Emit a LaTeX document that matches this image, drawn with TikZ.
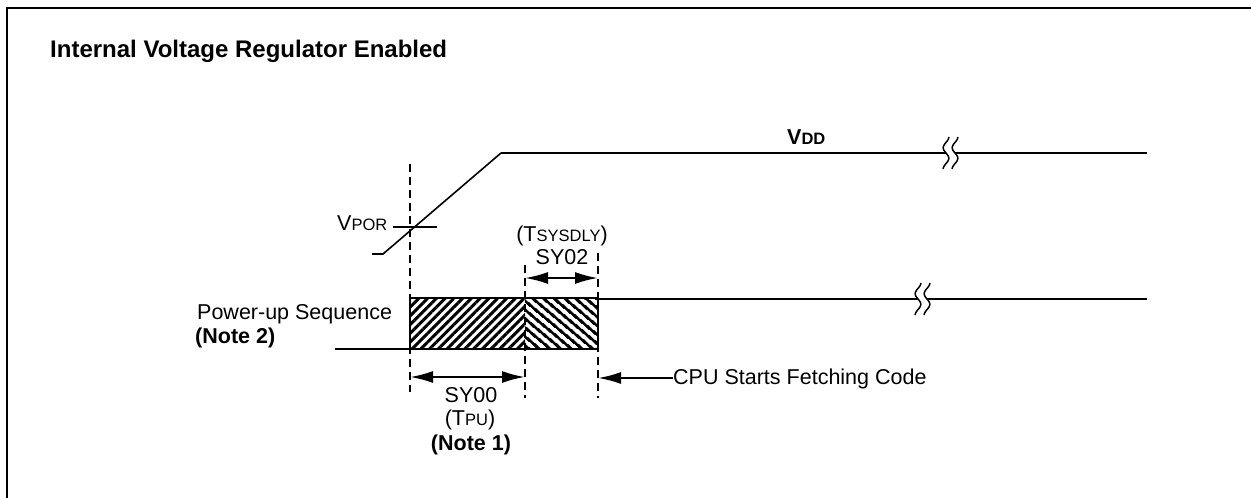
\documentclass[tikz,border=0pt]{standalone}
\usepackage{fontspec}
\setmainfont{Liberation Sans}
\usetikzlibrary{arrows.meta,patterns.meta}
\begin{document}
\begin{tikzpicture}[x=1pt,y=-1pt,
  frame/.style={line width=2.4pt},
  sig/.style={line width=2.4pt},
  ramp/.style={line width=1.6pt},
  guide/.style={line width=2.2pt, dash pattern=on 8pt off 5pt},
  dimarrow/.style={line width=2.2pt, {Latex[length=23pt,width=12pt]}-{Latex[length=23pt,width=12pt]}},
  onearrow/.style={line width=2.2pt, -{Latex[length=23pt,width=12pt]}},
  txt/.style={font=\fontsize{21.5}{24}\selectfont, inner sep=0pt},
  btxt/.style={font=\fontsize{21.5}{24}\selectfont\bfseries, inner sep=0pt},
  squig/.pic={\draw[line width=1.5pt] plot[domain=-16:16,samples=40,smooth] ({2.8*sin(\x*17)},\x);}
]
\newcommand\smc[1]{{\fontsize{16.5}{18}\selectfont #1}}
\useasboundingbox (0,0) rectangle (1251,498);
% frame
\draw[frame] (7,498) -- (7,8) -- (1251,8);
% title
\node[inner sep=0pt, font=\fontsize{24}{26}\selectfont\bfseries, anchor=base west] (title) at (50,57) {Internal Voltage Regulator Enabled};
% VDD signal
\coordinate (v0) at (372,254);
\coordinate (v1) at (383,254);
\coordinate (v2) at (501,153);
\coordinate (vb1) at (946,153);
\coordinate (vb2) at (955,153);
\coordinate (v3) at (1147,153);
\draw[ramp] (v0) -- (v1) -- (v2);
\draw[sig] (v2) -- (vb1);
\draw[sig] (vb2) -- (v3);
\pic at (vb1) {squig};
\pic at (vb2) {squig};
\node[btxt, anchor=base west] (vdd) at (787,144) {V\smc{DD}};
% VPOR
\node[txt, anchor=base west] (vpor) at (337,230) {V\smc{POR}};
\coordinate (t0) at (393,227);
\coordinate (t1) at (437,227);
\draw[line width=2.2pt] (t0) -- (t1);
% dashed guides
\coordinate (g1a) at (410,164);
\coordinate (g1b) at (410,392);
\coordinate (g2a) at (525,265);
\coordinate (g2b) at (525,398);
\coordinate (g3a) at (598,253);
\coordinate (g3b) at (598,398);
% power-up sequence signal
\fill[pattern={Lines[angle=45,distance=6.2pt,line width=3pt]}] (410,298) rectangle (525,349);
\fill[pattern={Lines[angle=-40,distance=6.4pt,line width=3.1pt]}] (525,298) rectangle (598,349);
\coordinate (p0) at (335,349);
\coordinate (pb1) at (918,299);
\coordinate (pb2) at (927,299);
\coordinate (p1) at (1147,299);
\draw[sig] (p0) -- (410,349) -- (410,298) -- (598,298) -- (598,349) -- (410,349);
\draw[sig] (598,299) -- (pb1);
\draw[sig] (pb2) -- (p1);
\pic at (pb1) {squig};
\pic at (pb2) {squig};
\draw[guide] (g1a) -- (g1b);
\draw[guide] (g2a) -- (g2b);
\draw[guide] (g3a) -- (g3b);
\node[txt, anchor=base west] (pus) at (197,319) {Power-up Sequence};
\node[btxt, anchor=base west] (note2) at (195,343) {(Note 2)};
% SY02
\coordinate (s2a) at (525,278);
\coordinate (s2b) at (598,278);
\draw[dimarrow] (s2a) -- (s2b);
\node[txt, anchor=base] (tsys) at (562,241) {(T\smc{SYSDLY})};
\node[txt, anchor=base] (sy02) at (562,264) {SY02};
% SY00
\coordinate (s0a) at (410,377);
\coordinate (s0b) at (525,377);
\draw[dimarrow] (s0a) -- (s0b);
\node[txt, anchor=base] (sy00) at (471,402) {SY00};
\node[txt, anchor=base] (tpu) at (470,425) {(T\smc{PU})};
\node[btxt, anchor=base] (note1) at (471,450) {(Note 1)};
% CPU
\node[txt, anchor=base west] (cpu) at (673,384) {CPU Starts Fetching Code};
\coordinate (c0) at (598,378);
\draw[onearrow] (cpu.west |- c0) -- (c0);
\end{tikzpicture}
\end{document}
